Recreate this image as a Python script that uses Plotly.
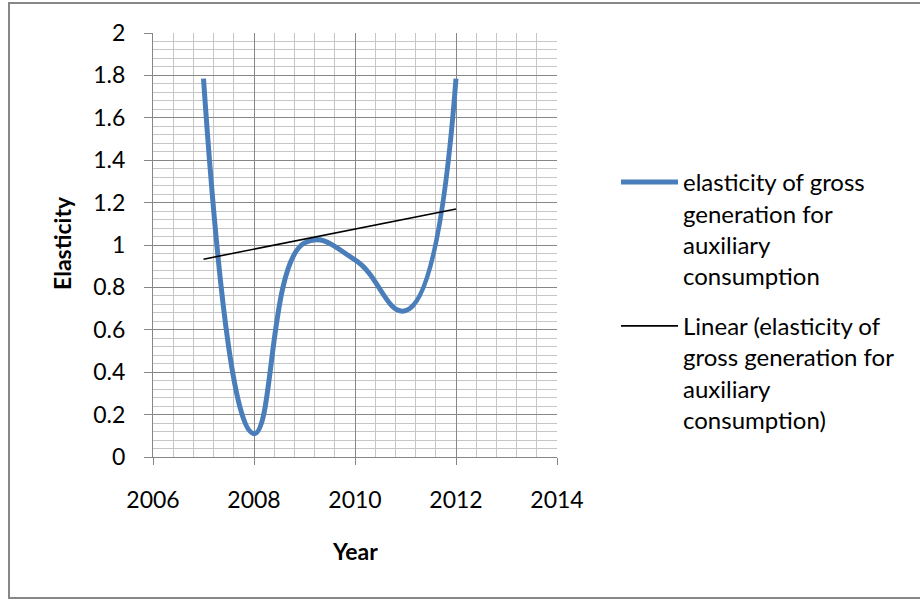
import numpy as np
import plotly.graph_objects as go

# ---- data ----
years = [2007, 2008, 2009, 2010, 2011, 2012]
elasticity = [1.785, 0.11, 1.01, 0.93, 0.69, 1.785]
series_name = "elasticity of gross<br>generation for<br>auxiliary<br>consumption"
trend_name = "Linear (elasticity of<br>gross generation for<br>auxiliary<br>consumption)"
x_title = "Year"
y_title = "Elasticity"

# linear trendline (least squares) over the data
slope, intercept = np.polyfit(years, elasticity, 1)
trend_x = [years[0], years[-1]]
trend_y = [slope * x + intercept for x in trend_x]

FONT = "Lato, Open Sans, sans-serif"
W, H = 920, 600
L, R, T, B = 153, 557, 33, 457  # plot area in pixels

def px(xp):
    return (xp - L) / (R - L)

def py(yp):
    return (B - yp) / (B - T)

fig = go.Figure()
fig.add_trace(go.Scatter(
    x=years, y=elasticity, mode="lines", name=series_name, legendgroup="a",
    line=dict(color="#4A7EBB", width=5, shape="spline", smoothing=1.3),
))
fig.add_trace(go.Scatter(
    x=trend_x, y=trend_y, mode="lines", name=trend_name, legendgroup="b",
    line=dict(color="#000000", width=1.6),
))

fig.update_layout(
    width=W, height=H,
    margin=dict(l=L, r=W - R, t=T, b=H - B, pad=0),
    paper_bgcolor="white", plot_bgcolor="white",
    font=dict(family=FONT, size=23, color="#000000"),
    showlegend=True,
    legend=dict(
        x=px(616), y=py(160), xanchor="left", yanchor="top",
        font=dict(family=FONT, size=24, color="#000000"),
        bgcolor="rgba(0,0,0,0)", valign="top", itemwidth=57,
        tracegroupgap=16,
    ),
    xaxis=dict(
        range=[2006, 2014], tick0=2006, dtick=2,
        showgrid=True, gridcolor="#878787", gridwidth=1,
        minor=dict(dtick=0.4, showgrid=True, gridcolor="#c6c6c6", gridwidth=1, ticks=""),
        ticks="outside", ticklen=7, tickcolor="#868686", tickwidth=1,
        showline=True, linecolor="#868686", linewidth=1,
        zeroline=False, ticklabelstandoff=15,
        tickfont=dict(family=FONT, size=23),
    ),
    yaxis=dict(
        range=[0, 2], tick0=0, dtick=0.2,
        showgrid=True, gridcolor="#878787", gridwidth=1,
        minor=dict(dtick=0.04, showgrid=True, gridcolor="#c6c6c6", gridwidth=1, ticks=""),
        ticks="outside", ticklen=8, tickcolor="#868686", tickwidth=1,
        showline=True, linecolor="#868686", linewidth=1,
        zeroline=False, ticklabelstandoff=14,
        tickfont=dict(family=FONT, size=23),
    ),
    annotations=[
        dict(text="<b>%s</b>" % y_title, xref="paper", yref="paper",
             x=px(62), y=py(243), textangle=-90, showarrow=False,
             xanchor="center", yanchor="middle",
             font=dict(family=FONT, size=23)),
        dict(text="<b>%s</b>" % x_title, xref="paper", yref="paper",
             x=px(355), y=py(551), showarrow=False,
             xanchor="center", yanchor="middle",
             font=dict(family=FONT, size=23)),
    ],
    shapes=[
        dict(type="rect", xref="paper", yref="paper",
             x0=px(9), x1=px(930), y0=py(598), y1=py(3),
             line=dict(color="#878787", width=2), fillcolor="rgba(0,0,0,0)",
             layer="below"),
    ],
)

fig.write_html("out.html")
